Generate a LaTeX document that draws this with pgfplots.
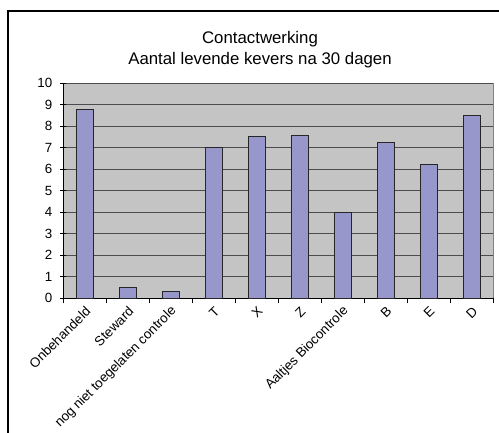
\documentclass[border=0pt]{standalone}
\usepackage{pgfplots}
\pgfplotsset{compat=1.18}
\usepackage{fontspec}
\setmainfont{Liberation Sans}
\definecolor{barfill}{HTML}{9797CB}
\definecolor{plotbg}{HTML}{C4C4C4}
\begin{document}
\begin{tikzpicture}
\useasboundingbox (0,0) rectangle (374.25pt,324pt);
\draw[black, line width=0.8pt] (6pt,-20pt) rectangle (400pt,315.75pt);
\node[anchor=base, inner sep=0pt, font=\fontsize{12.6}{15}\selectfont] at (195pt,291pt) {Contactwerking};
\node[anchor=base, inner sep=0pt, font=\fontsize{12.6}{15}\selectfont] at (195pt,275.25pt) {Aantal levende kevers na 30 dagen};
\begin{axis}[
  at={(47.25pt,100.5pt)}, anchor=south west,
  scale only axis, width=322.5pt, height=161.25pt,
  xmin=-0.5, xmax=9.5, ymin=0, ymax=10,
  ytick={0,...,10},
  xtick={0,...,9},
  xticklabels={Onbehandeld,Steward,nog niet toegelaten controle,T,X,Z,Aaltjes Biocontrole,B,E,D},
  minor xtick={-0.5,0.5,...,9.5},
  major x tick style={draw=none},
  minor x tick style={black, line width=0.6pt},
  major y tick style={black, line width=0.6pt},
  tick align=outside,
  major tick length=4pt, minor tick length=4pt,
  axis x line=bottom, axis y line=left,
  axis line style={-, black, line width=0.7pt},
  axis background/.style={fill=plotbg, draw=black!50},
  ymajorgrids, major grid style={black!70, line width=0.6pt},
  xticklabel style={rotate=45, anchor=east, font=\fontsize{10}{11}\selectfont, inner sep=1pt, yshift=-5pt},
  yticklabel style={font=\fontsize{10}{11}\selectfont, xshift=-2.5pt},
  /pgf/number format/assume math mode=true,
  ybar, bar width=12.75pt,
]
\addplot[fill=barfill, draw=black!85, line width=0.6pt] coordinates {(0,8.78)(1,0.48)(2,0.3)(3,7.0)(4,7.5)(5,7.55)(6,4.0)(7,7.25)(8,6.22)(9,8.48)};
\end{axis}
\end{tikzpicture}
\end{document}
